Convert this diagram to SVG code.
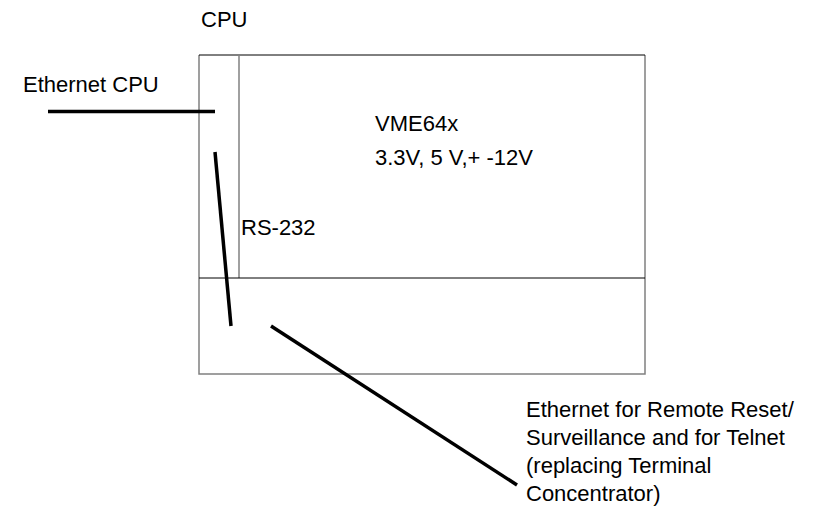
<svg xmlns="http://www.w3.org/2000/svg" width="837" height="510" viewBox="0 0 837 510">
<style>
text{font-family:"Liberation Sans",Arial,sans-serif;font-size:22px;fill:#000}
.thin{stroke:#000;stroke-width:1;fill:none}
.grey{stroke:#808080;stroke-width:1.5;fill:none}
.wire{stroke:#000;stroke-width:3.5;fill:none}
</style>
<rect width="837" height="510" fill="#fff"/>
<g id="cpu-label"><text x="201" y="27">CPU</text></g>
<g id="cpu-box">
<path class="grey" d="M199,55 V374 H645 V55"/>
<path class="thin" d="M199,55 H645"/>
<path class="grey" d="M239,55 V278"/>
<path class="thin" d="M199,278 H645"/>
</g>
<g id="vme"><text x="375" y="131">VME64x</text><text x="375" y="165">3.3V, 5 V,+ -12V</text></g>
<g id="rs232"><text x="241" y="235">RS-232</text></g>
<g id="eth-cpu"><text x="23" y="92">Ethernet CPU</text></g>
<g id="eth-remote"><text x="526" y="417">Ethernet for Remote Reset/</text><text x="526" y="445">Surveillance and for Telnet</text><text x="526" y="473">(replacing Terminal</text><text x="526" y="501">Concentrator)</text></g>
<g id="connectors">
<line class="wire" x1="48" y1="111.5" x2="215" y2="111.5"/>
<line class="wire" x1="215" y1="152" x2="231" y2="326"/>
<line class="wire" x1="271" y1="326" x2="517" y2="485"/>
</g>
</svg>
